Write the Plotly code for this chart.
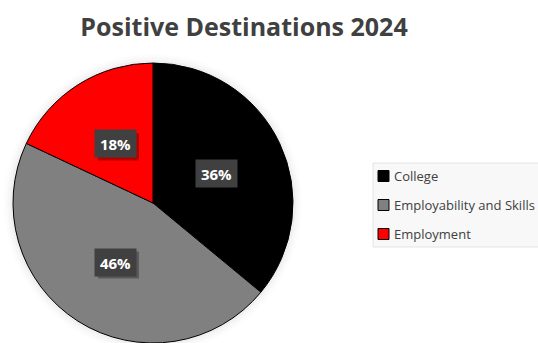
import math
import plotly.graph_objects as go

# Destination shares for 2024 (percent)
categories = ["College", "Employability and Skills", "Employment"]
shares = [36, 46, 18]
slice_colors = ["#000000", "#808080", "#FF0000"]
title_text = "Positive Destinations 2024"

W, H = 538, 343
pie_dom_x = [13 / W, 293 / W]
pie_dom_y = [0.0, 280 / H]

fig = go.Figure()
fig.add_trace(go.Pie(
    labels=categories,
    values=shares,
    sort=False,
    direction="clockwise",
    rotation=0,
    marker=dict(colors=slice_colors, line=dict(color="#000000", width=1)),
    textinfo="none",
    textposition="none",
    hoverinfo="label+percent",
    domain=dict(x=pie_dom_x, y=pie_dom_y),
    showlegend=False,
))

# Pie centre and radius in pixels (margins are zero)
cx_px = (pie_dom_x[0] + pie_dom_x[1]) / 2 * W
cy_px = H - (pie_dom_y[0] + pie_dom_y[1]) / 2 * H
radius_px = min((pie_dom_x[1] - pie_dom_x[0]) * W, (pie_dom_y[1] - pie_dom_y[0]) * H) / 2


def px_shape(x_px, y_px, x0, x1, y0, y1, **kw):
    """Shape anchored at a pixel position with pixel offsets (y offsets point up)."""
    fig.add_shape(xref="paper", yref="paper", xsizemode="pixel", ysizemode="pixel",
                  xanchor=x_px / W, yanchor=1 - y_px / H,
                  x0=x0, x1=x1, y0=y0, y1=y1, **kw)


# Soft halo around the pie
for k, a in [(9, 0.012), (6, 0.018), (3, 0.028)]:
    px_shape(cx_px, cy_px, -radius_px - k, radius_px + k, -radius_px - k, radius_px + k,
             type="circle", fillcolor=f"rgba(0,0,0,{a})", line=dict(width=0), layer="below")

# Percentage labels at half radius along each slice's mid angle
box_w, box_h = 41, 27
total = sum(shares)
start = 0.0
for name, v in zip(categories, shares):
    frac = v / total
    mid = (start + frac / 2) * 2 * math.pi
    start += frac
    px = cx_px + 0.5 * radius_px * math.sin(mid)
    py = cy_px - 0.5 * radius_px * math.cos(mid)
    # drop shadow behind the label box
    px_shape(px + 3, py + 3, -box_w / 2, box_w / 2, -box_h / 2, box_h / 2,
             type="rect", fillcolor="rgba(0,0,0,0.30)", line=dict(width=0), layer="above")
    fig.add_annotation(x=px / W, y=1 - py / H, xref="paper", yref="paper",
                       xanchor="center", yanchor="middle",
                       text=f"<b>{round(100 * frac)}%</b>", showarrow=False,
                       width=box_w, height=box_h, align="center", valign="middle",
                       font=dict(family="Open Sans", size=15, color="#FFFFFF"),
                       bgcolor="#404040", borderpad=0)

# Legend: framed panel with square swatches
leg_left, leg_top, leg_bottom = 373, 163, 247
px_shape(leg_left, leg_top, 0, W - leg_left + 5, 0, -(leg_bottom - leg_top),
         type="rect", fillcolor="#F8F8F8", line=dict(color="#E4E4E4", width=1), layer="below")
row_y = [176, 205, 234]
for name, col, ry in zip(categories, slice_colors, row_y):
    px_shape(383.5, ry, -5.5, 5.5, -5.5, 5.5,
             type="rect", fillcolor=col, line=dict(color="#000000", width=1), layer="above")
    fig.add_annotation(x=392 / W, y=1 - ry / H, xref="paper", yref="paper",
                       xanchor="left", yanchor="middle", text=name, showarrow=False,
                       font=dict(family="Open Sans", size=13, color="#404040"))

fig.update_layout(
    width=W, height=H,
    margin=dict(l=0, r=0, t=0, b=0),
    paper_bgcolor="#FFFFFF",
    plot_bgcolor="#FFFFFF",
    showlegend=False,
    title=dict(text=f"<b>{title_text}</b>", x=244 / W, xanchor="center",
               y=1 - 27 / H, yanchor="middle",
               font=dict(family="Open Sans", size=25, color="#404040")),
)

fig.write_html("out.html")
